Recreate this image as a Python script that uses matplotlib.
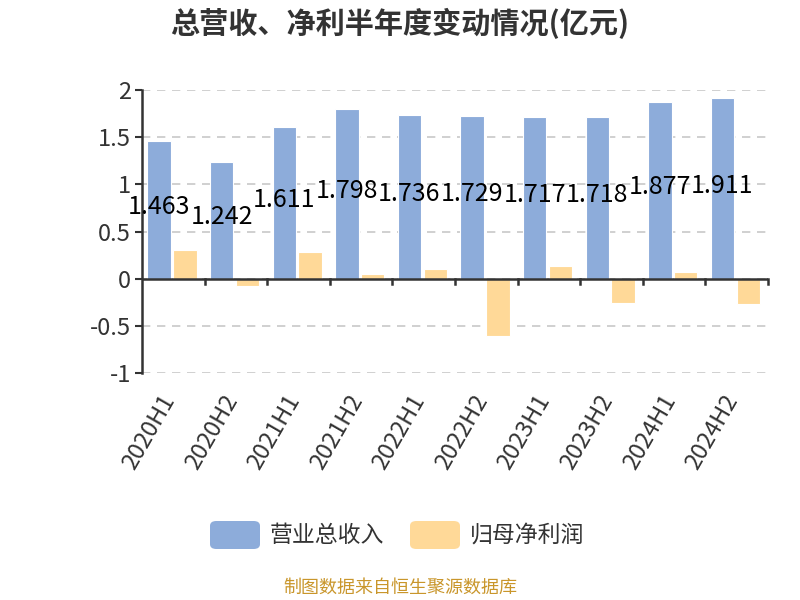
import matplotlib

matplotlib.use("Agg")
import matplotlib.pyplot as plt
from matplotlib.patches import FancyBboxPatch
import numpy as np

plt.rcParams["font.family"] = ["Noto Sans CJK SC", "DejaVu Sans"]

periods = ["2020H1", "2020H2", "2021H1", "2021H2", "2022H1",
           "2022H2", "2023H1", "2023H2", "2024H1", "2024H2"]
revenue = [1.463, 1.242, 1.611, 1.798, 1.736, 1.729, 1.717, 1.718, 1.877, 1.911]
net_profit = [0.31, -0.08, 0.28, 0.05, 0.105, -0.61, 0.14, -0.26, 0.075, -0.27]
yticks = [-1, -0.5, 0, 0.5, 1, 1.5, 2]
ytick_labels = ["-1", "-0.5", "0", "0.5", "1", "1.5", "2"]

blue = "#8DACDA"
orange = "#FFD998"
dark = "#333333"

fig = plt.figure(figsize=(8, 6), dpi=100)
ax = fig.add_axes([0.1775, 0.378, 0.7825, 0.472])

x = np.arange(len(periods)) + 0.5
w = 0.375
ax.bar(x - 0.227, revenue, width=w, color=blue, edgecolor="white", linewidth=0.8, zorder=3)
ax.bar(x + 0.185, net_profit, width=w, color=orange, edgecolor="white", linewidth=0.8, zorder=3)

for xi, v in zip(x, revenue):
    ax.text(xi - 0.227, v / 2 + 0.03, f"{v:.3f}", ha="center", va="center",
            fontsize=18, color="black", zorder=5)

ax.set_xlim(0, len(periods))
ax.set_ylim(-1, 2)
ax.set_yticks(yticks)
ax.set_yticklabels(ytick_labels, fontsize=17, color=dark)
ax.yaxis.grid(True, linestyle=(0, (5, 4)), color="#c8c8c8", linewidth=1.2, zorder=0)
ax.tick_params(axis="y", length=5, width=1.5, color=dark, pad=3)

for s in ["top", "right", "bottom"]:
    ax.spines[s].set_visible(False)
ax.spines["left"].set_color(dark)
ax.spines["left"].set_linewidth(1.8)
ax.axhline(0, color=dark, linewidth=1.8, zorder=4)

# category boundary ticks below the zero line
for b in range(1, len(periods) + 1):
    ax.plot([b, b], [0, -0.05], color=dark, linewidth=1.8, zorder=4, clip_on=False)

ax.set_xticks([])
for xi, lab in zip(x, periods):
    ax.text(xi - 0.06, -1.25, lab, rotation=60, ha="right", va="center", fontsize=17,
            color=dark, rotation_mode="anchor")

fig.text(0.5, 1 - 23 / 600, "总营收、净利半年度变动情况(亿元)", ha="center", va="center",
         fontsize=21, fontweight="bold", color=dark)

# legend
for x0, col, lab in [(210, blue, "营业总收入"), (410, orange, "归母净利润")]:
    box = FancyBboxPatch((x0 / 800, 1 - 549 / 600), 50 / 800, 28 / 600,
                         boxstyle="round,pad=0,rounding_size=0.008",
                         transform=fig.transFigure, facecolor=col, edgecolor="none")
    fig.patches.append(box)
    fig.text((x0 + 60) / 800, 1 - 535 / 600, lab, ha="left", va="center",
             fontsize=16.5, color=dark)

fig.text(0.5, 1 - 588 / 600, "制图数据来自恒生聚源数据库", ha="center", va="center",
         fontsize=13, color="#C9962B")

fig.savefig("out.png", dpi=100)
